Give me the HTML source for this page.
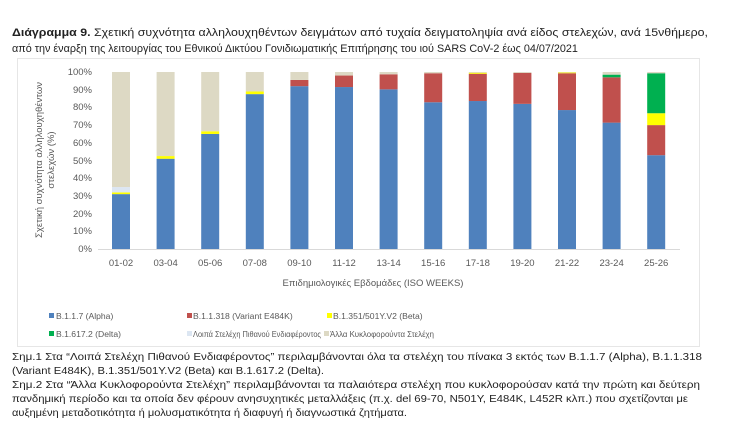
<!DOCTYPE html><html><head><meta charset="utf-8"><style>
body{margin:0;width:730px;height:427px;background:#fff;overflow:hidden;font-family:"Liberation Sans","DejaVu Sans",sans-serif;}
svg text{font-family:"Liberation Sans","DejaVu Sans",sans-serif;}
</style></head><body>
<svg width="730" height="427" xmlns="http://www.w3.org/2000/svg">
<text x="12" y="36" font-size="10.8" fill="#222" textLength="696" lengthAdjust="spacingAndGlyphs"><tspan font-weight="bold">Διάγραμμα 9.</tspan> Σχετική συχνότητα αλληλουχηθέντων δειγμάτων από τυχαία δειγματοληψία ανά είδος στελεχών, ανά 15νθήμερο,</text>
<text x="12" y="52" font-size="10.8" fill="#222">από την έναρξη της λειτουργίας του Εθνικού Δικτύου Γονιδιωματικής Επιτήρησης του ιού SARS CoV-2 έως 04/07/2021</text>
<rect x="17.5" y="58.5" width="682" height="288" fill="none" stroke="#e6e6e6"/>
<g font-size="9.5" fill="#595959" text-anchor="end">
<text x="92" y="75">100%</text><text x="92" y="93">90%</text><text x="92" y="110">80%</text><text x="92" y="128">70%</text><text x="92" y="146">60%</text><text x="92" y="164">50%</text><text x="92" y="181">40%</text><text x="92" y="199">30%</text><text x="92" y="217">20%</text><text x="92" y="234">10%</text><text x="92" y="252">0%</text>
</g>
<text transform="translate(42,160) rotate(-90)" font-size="9.5" fill="#595959" text-anchor="middle">Σχετική συχνότητα αλληλουχηθέντων</text>
<text transform="translate(54,160) rotate(-90)" font-size="9.5" fill="#595959" text-anchor="middle">στελεχών (%)</text>
<line x1="98" y1="249.5" x2="680" y2="249.5" stroke="#d9d9d9"/>
<g id="bars"></g>
<g font-size="9.5" fill="#595959" text-anchor="middle" id="xl"></g>
<text x="373" y="286" font-size="9.5" fill="#595959" text-anchor="middle">Επιδημιολογικές Εβδομάδες (ISO WEEKS)</text>
<g font-size="8.6" fill="#595959">
<rect x="49" y="313" width="5" height="5" fill="#4f81bd"/><text x="56" y="319">B.1.1.7 (Alpha)</text>
<rect x="187" y="313" width="5" height="5" fill="#c0504d"/><text x="193" y="319">B.1.1.318 (Variant E484K)</text>
<rect x="327" y="313" width="5" height="5" fill="#ffff00"/><text x="333" y="319">B.1.351/501Y.V2 (Beta)</text>
<rect x="49" y="331" width="5" height="5" fill="#00b050"/><text x="56" y="337">B.1.617.2 (Delta)</text>
<rect x="187" y="331" width="5" height="5" fill="#dce6f2"/><text x="193" y="337" textLength="128" lengthAdjust="spacingAndGlyphs">Λοιπά Στελέχη Πιθανού Ενδιαφέροντος</text>
<rect x="324" y="331" width="5" height="5" fill="#ddd9c4"/><text x="330" y="337" textLength="104" lengthAdjust="spacingAndGlyphs">Άλλα Κυκλοφορούντα Στελέχη</text>
</g>
<g font-size="10" fill="#222">
<text x="12" y="360" textLength="690" lengthAdjust="spacingAndGlyphs">Σημ.1 Στα “Λοιπά Στελέχη Πιθανού Ενδιαφέροντος” περιλαμβάνονται όλα τα στελέχη του πίνακα 3 εκτός των B.1.1.7 (Alpha), B.1.1.318</text>
<text x="12" y="374" textLength="312" lengthAdjust="spacingAndGlyphs">(Variant E484K), B.1.351/501Y.V2 (Beta) και B.1.617.2 (Delta).</text>
<text x="12" y="388" textLength="688" lengthAdjust="spacingAndGlyphs">Σημ.2 Στα “Άλλα Κυκλοφορούντα Στελέχη” περιλαμβάνονται τα παλαιότερα στελέχη που κυκλοφορούσαν κατά την πρώτη και δεύτερη</text>
<text x="12" y="402" textLength="676" lengthAdjust="spacingAndGlyphs">πανδημική περίοδο και τα οποία δεν φέρουν ανησυχητικές μεταλλάξεις (π.χ. del 69-70, N501Y, E484K, L452R κλπ.) που σχετίζονται με</text>
<text x="12" y="416" textLength="395" lengthAdjust="spacingAndGlyphs">αυξημένη μεταδοτικότητα ή μολυσματικότητα ή διαφυγή ή διαγνωστικά ζητήματα.</text>
</g>
</svg>
<script>
var C=["#4f81bd","#c0504d","#ffff00","#00b050","#dce6f2","#ddd9c4"];
var D=[["01-02",[31,0,1,0,3]],["03-04",[51,0,1.5,0,0]],["05-06",[65,0,1.5,0,0]],["07-08",[87.5,0,1.5,0,0]],["09-10",[92,3.5,0,0,0]],["11-12",[91.5,6.5,0,0,0]],["13-14",[90.2,8.5,0,0,0]],["15-16",[82.9,16.4,0,0,0]],["17-18",[83.6,15.4,0.6,0,0]],["19-20",[82,17.5,0,0,0]],["21-22",[78.5,20.8,0.4,0,0]],["23-24",[71.4,25.6,0,1.5,0]],["25-26",[53,17,6.7,22.6,0]]];
var s="",l="";
D.forEach(function(d,i){var cx=121+i*44.6,x=cx-9,acc=0;
d[1].forEach(function(v,j){if(v>0){var y1=249-1.77*(acc+v),h=1.77*v;s+='<rect x="'+x+'" y="'+y1+'" width="18" height="'+h+'" fill="'+C[j]+'"/>';}acc+=v;});
if(acc<100){s+='<rect x="'+x+'" y="72" width="18" height="'+(1.77*(100-acc))+'" fill="'+C[5]+'"/>';}
l+='<text x="'+cx+'" y="266">'+d[0]+'</text>';});
document.getElementById("bars").innerHTML=s;document.getElementById("xl").innerHTML=l;
</script>
</body></html>
